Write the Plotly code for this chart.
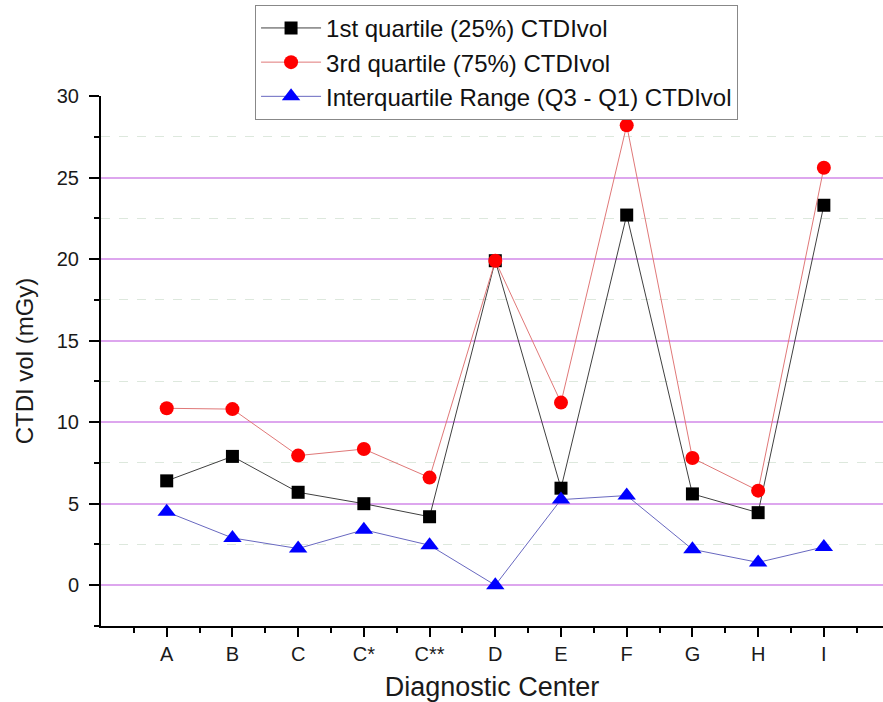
import plotly.graph_objects as go

centers = ["A", "B", "C", "C*", "C**", "D", "E", "F", "G", "H", "I"]
q1 = [6.4, 7.9, 5.7, 5.0, 4.2, 19.9, 5.95, 22.7, 5.6, 4.45, 23.3]
q3 = [10.85, 10.8, 7.95, 8.35, 6.6, 19.9, 11.2, 28.2, 7.8, 5.8, 25.6]
iqr = [4.5, 2.9, 2.25, 3.4, 2.45, 0.0, 5.25, 5.5, 2.2, 1.4, 2.35]

xpos = list(range(1, len(centers) + 1))

fig = go.Figure()
fig.add_trace(go.Scatter(
    x=xpos, y=q1, mode="lines+markers", name="1st quartile (25%) CTDIvol",
    line=dict(color="#404040", width=1),
    marker=dict(symbol="square", size=13, color="black")))
fig.add_trace(go.Scatter(
    x=xpos, y=q3, mode="lines+markers", name="3rd quartile (75%) CTDIvol",
    line=dict(color="#e07878", width=1),
    marker=dict(symbol="circle", size=14, color="red")))
fig.add_trace(go.Scatter(
    x=xpos, y=iqr, mode="lines+markers", name="Interquartile Range (Q3 - Q1) CTDIvol",
    line=dict(color="#6868c0", width=1),
    marker=dict(symbol="triangle-up", size=16, color="blue")))

fig.update_layout(
    width=883, height=702,
    margin=dict(l=101, r=0, t=96, b=76),
    paper_bgcolor="white", plot_bgcolor="white",
    font=dict(family="Liberation Sans, Arial, sans-serif", color="#1a1a1a"),
    showlegend=True,
    legend=dict(
        x=0.197, y=1.172, xanchor="left", yanchor="top",
        bordercolor="#888888", borderwidth=1,
        font=dict(size=24, color="#111111"),
        tracegroupgap=0, itemwidth=60,
        bgcolor="white"),
    xaxis=dict(
        range=[0, 11.9],
        tickmode="array", tickvals=xpos, ticktext=centers,
        ticks="outside", ticklen=9, tickwidth=1.5, tickcolor="black",
        showline=True, linecolor="black", linewidth=2,
        showgrid=False, zeroline=False,
        tickfont=dict(size=20),
        minor=dict(tickmode="linear", tick0=0.5, dtick=1, ticks="outside",
                   ticklen=5, tickwidth=1.5, tickcolor="black", showgrid=False),
        title=dict(text="Diagnostic Center", font=dict(size=27), standoff=14),
    ),
    yaxis=dict(
        range=[-2.5, 30],
        tickmode="linear", tick0=0, dtick=5,
        ticks="outside", ticklen=10, tickwidth=1.5, tickcolor="black",
        ticklabelstandoff=6,
        showline=True, linecolor="black", linewidth=2,
        showgrid=True, gridcolor="#dda6ee", gridwidth=1.5,
        zeroline=False,
        tickfont=dict(size=20),
        minor=dict(tickmode="linear", tick0=2.5, dtick=5, ticks="outside",
                   ticklen=5, tickwidth=1.5, tickcolor="black",
                   showgrid=True, gridcolor="#dde8dd", gridwidth=1, griddash="dash"),
        title=dict(text="CTDI vol (mGy)", font=dict(size=24), standoff=16),
    ),
)

fig.write_html("out.html")
